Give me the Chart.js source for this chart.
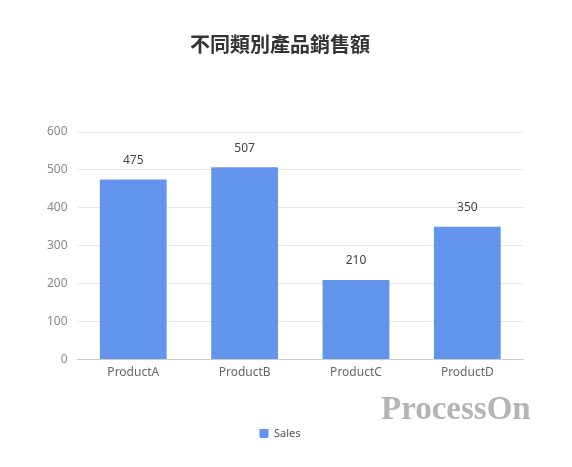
<!DOCTYPE html>
<html><head><meta charset="utf-8">
<script src="https://cdn.jsdelivr.net/npm/chart.js@4"></script>
<style>
html,body{margin:0;padding:0;background:#fff;}
#wrap{position:relative;width:572px;height:467px;}
#wm{position:absolute;left:381px;top:390px;font-family:"Liberation Serif","DejaVu Serif",serif;font-weight:bold;font-size:33px;color:#b4b4b4;}
</style></head><body>
<div id="wrap"><canvas id="c" width="572" height="467"></canvas><div id="wm">ProcessOn</div></div>
<script>
const categories = ["ProductA","ProductB","ProductC","ProductD"];
const salesValues = [475,507,210,350];
const seriesName = "Sales";
const titleText = "不同類別產品銷售額";

const valueLabels = {
  id:'valueLabels',
  afterDatasetsDraw(chart){
    const ctx = chart.ctx;
    const meta = chart.getDatasetMeta(0);
    ctx.save();
    ctx.font = '12px "Noto Sans","Open Sans",sans-serif';
    ctx.fillStyle = '#444';
    ctx.textAlign = 'center';
    ctx.textBaseline = 'middle';
    meta.data.forEach((bar,i)=>{
      ctx.fillText(String(chart.data.datasets[0].data[i]), bar.x, bar.y-19);
    });
    ctx.restore();
  }
};

new Chart(document.getElementById('c'),{
  type:'bar',
  data:{labels:categories,datasets:[{label:seriesName,data:salesValues,backgroundColor:'#6495ED',categoryPercentage:1,barPercentage:0.6}]},
  options:{
    responsive:false,animation:false,
    layout:{padding:{left:37,right:49,top:0,bottom:18}},
    plugins:{
      title:{display:true,text:titleText,color:'#333',font:{size:20,weight:'bold',family:'"Noto Sans CJK TC","Noto Sans CJK SC",sans-serif'},padding:{top:32,bottom:76}},
      legend:{position:'bottom',labels:{boxWidth:9,boxHeight:9,color:'#555',padding:20,font:{size:11,family:'"Noto Sans","Open Sans",sans-serif'}}},
      tooltip:{enabled:false}
    },
    scales:{
      x:{grid:{display:false,drawTicks:false},border:{color:'#ccc'},ticks:{color:'#666',padding:6,font:{size:12,family:'"Noto Sans","Open Sans",sans-serif'}},afterFit(s){s.height+=22;}},
      y:{min:0,max:600,ticks:{stepSize:100,color:'#888',padding:10,font:{size:12,family:'"Noto Sans","Open Sans",sans-serif'}},grid:{color:'#e6e6e6',drawTicks:false},border:{display:false}}
    }
  },
  plugins:[valueLabels]
});
</script></body></html>
